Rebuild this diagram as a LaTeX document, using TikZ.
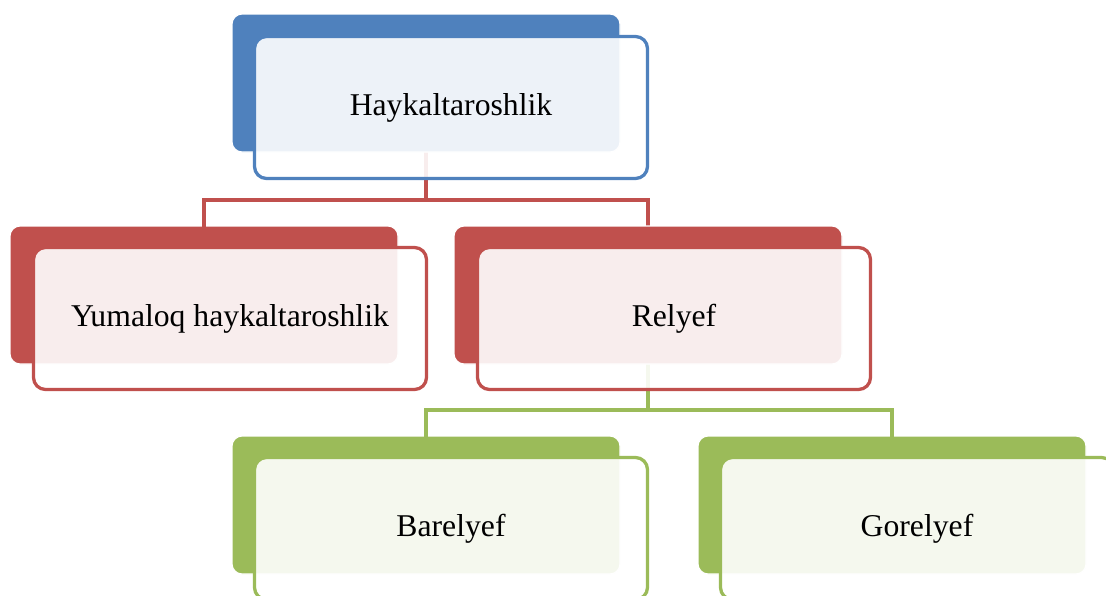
\documentclass[tikz,border=0pt]{standalone}
\usepackage{fontspec}
\setmainfont{Liberation Serif}
\definecolor{cblue}{HTML}{4F81BD}
\definecolor{cred}{HTML}{C0504D}
\definecolor{cgreen}{HTML}{9BBB59}
\tikzset{
  backbox/.style={rectangle, rounded corners=10pt, fill=#1, draw=white, line width=1.2pt,
    minimum width=388pt, minimum height=138pt, inner sep=0pt, outer sep=0pt},
  frontbox/.style={rectangle, rounded corners=12pt, fill=white, fill opacity=0.9, text opacity=1,
    draw=#1, draw opacity=1, line width=3.3pt, minimum width=393pt, minimum height=142pt,
    inner sep=0pt, outer sep=0pt, font=\fontsize{31.7}{36}\selectfont, text=black},
  conn/.style={draw=#1, line width=3.2pt},
}
\begin{document}
\begin{tikzpicture}[x=1pt,y=-1pt]
\useasboundingbox (0,0) rectangle (1106,595);
% bus coordinates
\coordinate (busA) at (0,200);
\coordinate (busB) at (0,410);
% back boxes
\node[backbox=cblue] (bH) at (426,83) {};
\node[backbox=cred] (bY) at (204,295) {};
\node[backbox=cred] (bR) at (648,295) {};
\node[backbox=cgreen] (bB) at (426,505) {};
\node[backbox=cgreen] (bG) at (892,505) {};
% connectors
\draw[conn=cred] (bH.south) -- (bH.south |- busA) -| ([yshift=-8pt]bY.north);
\draw[conn=cred] (bH.south |- busA) -| ([yshift=-8pt]bR.north);
\draw[conn=cgreen] (bR.south) -- (bR.south |- busB) -| ([yshift=-6pt]bB.north);
\draw[conn=cgreen] (bR.south |- busB) -| ([yshift=-6pt]bG.north);
% redraw back boxes above connector stubs
\node[backbox=cblue] at (bH) {};
\node[backbox=cred] at (bR) {};
% front boxes
\node[frontbox=cblue] (fH) at (451,107.5) {Haykaltaroshlik};
\node[frontbox=cred] (fY) at (230,318.5) {Yumaloq haykaltaroshlik};
\node[frontbox=cred] (fR) at (674,318.5) {Relyef};
\node[frontbox=cgreen] (fB) at (451,528.5) {Barelyef};
\node[frontbox=cgreen] (fG) at (917,528.5) {Gorelyef};
\end{tikzpicture}
\end{document}
